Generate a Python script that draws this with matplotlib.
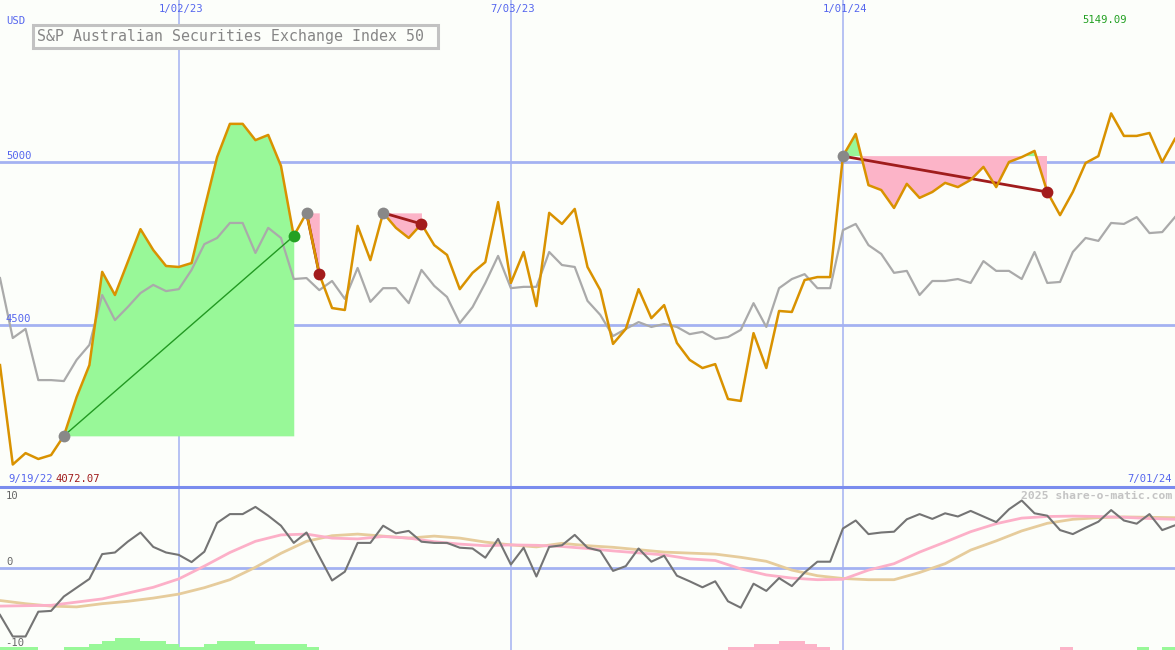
import numpy as np
import pandas as pd
import matplotlib
matplotlib.use('Agg')
import matplotlib.pyplot as plt
from matplotlib.lines import Line2D
from matplotlib.patches import Rectangle

# ---------------- data ----------------
dates = pd.date_range('2022-09-26', periods=93, freq='7D')

price = [4377, 4072.07, 4107, 4089, 4101, 4160, 4279, 4377, 4663, 4592,
         4693, 4794, 4730, 4681, 4678, 4690, 4856, 5015, 5117, 5117,
         5067, 5083, 4988, 4773, 4844, 4656, 4552, 4546, 4804, 4699,
         4844, 4798, 4767, 4810, 4745, 4715, 4610, 4660, 4693, 4877,
         4629, 4724, 4558, 4844, 4810, 4856, 4678, 4607, 4442, 4488,
         4610, 4521, 4561, 4445, 4393, 4368, 4380, 4273, 4267, 4475,
         4368, 4543, 4540, 4638, 4647, 4647, 5018, 5086, 4929, 4914,
         4859, 4933, 4890, 4908, 4936, 4923, 4945, 4985, 4923, 5000,
         5015, 5034, 4908, 4837, 4908, 4997, 5018, 5149.09, 5080, 5080,
         5089, 5000, 5071]

relative = [4644, 4460, 4488, 4331, 4331, 4328, 4393, 4439, 4592, 4515,
            4555, 4598, 4623, 4604, 4610, 4669, 4748, 4767, 4813, 4813,
            4721, 4798, 4767, 4641, 4644, 4607, 4635, 4580, 4675, 4571,
            4613, 4613, 4567, 4669, 4620, 4586, 4506, 4555, 4629, 4712,
            4613, 4617, 4617, 4724, 4684, 4678, 4574, 4531, 4466, 4488,
            4509, 4494, 4503, 4494, 4472, 4479, 4457, 4463, 4485, 4567,
            4494, 4613, 4641, 4656, 4613, 4613, 4791, 4810, 4745, 4718,
            4660, 4666, 4592, 4635, 4635, 4641, 4629, 4696, 4666, 4666,
            4641, 4724, 4629, 4632, 4724, 4767, 4758, 4813, 4810, 4831,
            4782, 4785, 4831]

momentum = [-5.9, -8.6, -8.6, -5.5, -5.4, -3.6, -2.5, -1.4, 1.7, 1.9,
            3.25, 4.4, 2.6, 1.9, 1.6, 0.7, 2.0, 5.6, 6.7, 6.7,
            7.6, 6.5, 5.25, 3.1, 4.4, 1.4, -1.6, -0.5, 3.1, 3.1,
            5.25, 4.3, 4.6, 3.25, 3.1, 3.1, 2.5, 2.4, 1.25, 3.6,
            0.4, 2.5, -1.1, 2.6, 2.8, 4.1, 2.5, 2.1, -0.4, 0.2,
            2.4, 0.75, 1.5, -1.0, -1.7, -2.45, -1.7, -4.2, -5.0, -2.0,
            -2.9, -1.3, -2.3, -0.6, 0.75, 0.75, 4.9, 5.9, 4.2, 4.4,
            4.5, 6.05, 6.7, 6.1, 6.8, 6.4, 7.1, 6.4, 5.7, 7.3,
            8.4, 6.8, 6.5, 4.7, 4.2, 5.0, 5.75, 7.2, 5.9, 5.5,
            6.7, 4.7, 5.3]

fast_idx = [0, 4, 8, 12, 14, 16, 18, 20, 22, 24, 26, 28, 30, 32, 34, 36, 38,
            40, 42, 44, 46, 48, 52, 54, 56, 58, 60, 62, 64, 66, 68, 70, 72,
            74, 76, 78, 80, 82, 84, 86, 88, 90, 92]
fast_avg = [-4.8, -4.7, -3.9, -2.45, -1.4, 0.2, 1.9, 3.3, 4.1, 4.2, 3.7, 3.6,
            3.9, 3.7, 3.25, 2.95, 2.75, 2.85, 2.8, 2.65, 2.4, 2.1, 1.6, 1.1,
            0.9, -0.15, -0.9, -1.3, -1.5, -1.45, -0.3, 0.5, 1.95, 3.2, 4.5,
            5.5, 6.2, 6.4, 6.45, 6.4, 6.3, 6.15, 6.05]

slow_idx = [0, 2, 4, 6, 8, 10, 12, 14, 16, 18, 20, 22, 24, 26, 28, 30, 32,
            34, 36, 38, 40, 42, 44, 46, 48, 52, 56, 58, 60, 62, 64, 66, 68,
            70, 72, 74, 76, 78, 80, 82, 84, 86, 88, 90, 92]
slow_avg = [-4.1, -4.5, -4.8, -4.9, -4.5, -4.2, -3.8, -3.3, -2.5, -1.5, 0.05,
            1.8, 3.3, 4.0, 4.2, 3.95, 3.7, 3.95, 3.7, 3.2, 2.85, 2.6, 3.05,
            2.75, 2.55, 1.95, 1.7, 1.3, 0.8, -0.3, -1.0, -1.35, -1.5, -1.5,
            -0.6, 0.5, 2.2, 3.35, 4.6, 5.55, 6.05, 6.25, 6.35, 6.3, 6.25]

signal_bars = [1, 1, 1, 0, 0, 1, 1, 2, 3, 4,
               4, 3, 3, 2, 1, 1, 2, 3, 3, 3,
               2, 2, 2, 2, 1, 0, 0, 0, 0, 0,
               0, 0, 0, 0, 0, 0, 0, 0, 0, 0,
               0, 0, 0, 0, 0, 0, 0, 0, 0, 0,
               0, 0, 0, 0, 0, 0, 0, -1, -1, -2,
               -2, -3, -3, -2, -1, 0, 0, 0, 0, 0,
               0, 0, 0, 0, 0, 0, 0, 0, 0, 0,
               0, 0, 0, -1, 0, 0, 0, 0, 0, 1,
               0, 1, 1]

trades = [(5, 23), (24, 25), (30, 33), (66, 82)]

grid_dates = ['2023-01-02', '2023-07-03', '2024-01-01']
grid_labels = ['1/02/23', '7/03/23', '1/01/24']
price_levels = [4500, 5000]
osc_levels = [10, 0, -10]
title = 'S&P Australian Securities Exchange Index 50'
currency = 'USD'
start_label = '9/19/22'
end_label = '7/01/24'
credit = '2025 share-o-matic.com'

# ---------------- style ----------------
W, H = 1175, 650
SPLIT = 487
BG = '#fcfefa'
GRID = '#a4b2f2'
SEP = '#7a8cee'
BLUE_TXT = '#5566ee'
ORANGE = '#d99200'
GREY = '#aaaaaa'
GREEN_FILL = '#98f898'
PINK_FILL = '#fcb4c8'
MONO = 'DejaVu Sans Mono'

x = np.arange(len(price))
price_a = np.array(price, dtype=float)
grid_pos = [int(np.where(dates == pd.Timestamp(d))[0][0]) for d in grid_dates]

fig = plt.figure(figsize=(W / 100, H / 100), dpi=100, facecolor=BG)
ax = fig.add_axes([0, (H - SPLIT) / H, 1, SPLIT / H])
ax2 = fig.add_axes([0, 0, 1, (H - SPLIT) / H])
for a in (ax, ax2):
    a.set_facecolor(BG)
    for s in a.spines.values():
        s.set_visible(False)
    a.set_xticks([])
    a.set_yticks([])
    a.set_xlim(0, len(price) - 1)

# main panel scale: 5000 at y=162 px, 4500 at y=325 px
ppu = (325 - 162) / 500.0
ax.set_ylim(5000 - (SPLIT - 162) / ppu, 5000 + 162 / ppu)

for gp in grid_pos:
    ax.axvline(gp, color=GRID, lw=1.1, zorder=1)
    ax2.axvline(gp, color=GRID, lw=1.1, zorder=1)
for lv in price_levels:
    ax.axhline(lv, color=GRID, lw=2, zorder=1)

# trades
for a_i, b_i in trades:
    xs = x[a_i:b_i + 1]
    ys = price_a[a_i:b_i + 1]
    e = price_a[a_i]
    ax.fill_between(xs, e, ys, where=ys >= e, interpolate=True,
                    color=GREEN_FILL, lw=0, zorder=2)
    ax.fill_between(xs, e, ys, where=ys <= e, interpolate=True,
                    color=PINK_FILL, lw=0, zorder=2)

ax.plot(x, relative, color=GREY, lw=1.6, zorder=3)

for a_i, b_i in trades:
    win = price_a[b_i] > price_a[a_i]
    lc = '#229922' if win else '#a01c1c'
    ax.plot([a_i, b_i], [price_a[a_i], price_a[b_i]], color=lc,
            lw=1.0 if win else 2.0, zorder=4)

ax.plot(x, price, color=ORANGE, lw=1.8, zorder=5)

for a_i, b_i in trades:
    win = price_a[b_i] > price_a[a_i]
    ax.plot(a_i, price_a[a_i], 'o', ms=8.5, color='#888888', mew=0, zorder=6)
    ax.plot(b_i, price_a[b_i], 'o', ms=8.5,
            color='#22a022' if win else '#a31c1c', mew=0, zorder=6)

# lower panel: 0 at y=567.7 px, 8 px per unit
zero_px = 567.7
opu = 8.0
lo = (zero_px - H) / opu
hi = (zero_px - SPLIT) / opu
ax2.set_ylim(lo, hi)
ax2.axhline(0, color=GRID, lw=2, zorder=1)

bar_unit = 0.39
sb = np.array(signal_bars)
for i, v in enumerate(sb):
    if v == 0:
        continue
    ax2.bar(i, abs(v) * bar_unit, bottom=lo, width=1.0, align='edge',
            color=GREEN_FILL if v > 0 else PINK_FILL, lw=0, zorder=2)

ax2.plot(slow_idx, slow_avg, color='#e6cc9c', lw=2, zorder=3)
ax2.plot(fast_idx, fast_avg, color='#fcb0c8', lw=2, zorder=3)
ax2.plot(x, momentum, color='#747474', lw=1.5, zorder=4)

# separator
fig.add_artist(Line2D([0, 1], [1 - SPLIT / H] * 2, transform=fig.transFigure,
                      color=SEP, lw=2.2, zorder=10))


def ftext(px, py, s, **kw):
    kw.setdefault('family', MONO)
    kw.setdefault('zorder', 12)
    return fig.text(px / W, 1 - py / H, s, **kw)


# title box (opaque, hides the grid line behind it)
fig.add_artist(Rectangle((33 / W, 1 - 47.5 / H), 405 / W, 23 / H,
                         transform=fig.transFigure, fill=True, fc=BG,
                         ec='#c2c2c2', lw=2.2, zorder=10))
ftext(37, 36.5, title, fontsize=10.7, color='#868686', va='center', ha='left')

ftext(6, 21, currency, fontsize=7.6, color=BLUE_TXT, va='center')
for gp, lab in zip(grid_pos, grid_labels):
    ftext(gp * W / (len(price) - 1) + 2, 9, lab, fontsize=7.6,
          color=BLUE_TXT, va='center', ha='center')
for lv in price_levels:
    py = 162 + (5000 - lv) * ppu
    ftext(6, py - 6, str(lv), fontsize=7.6, color=BLUE_TXT, va='center')

ftext(1082, 20, f'{max(price):.2f}', fontsize=7.6, color='#22a022', va='center')
ftext(8, 479, start_label, fontsize=7.6, color=BLUE_TXT, va='center')
ftext(55, 479, f'{min(price):.2f}', fontsize=7.6, color='#a01c1c', va='center')
ftext(1172, 479, end_label, fontsize=7.6, color=BLUE_TXT, va='center', ha='right')
ftext(1172, 496, credit, fontsize=8.2, color='#c4c4c4', va='center', ha='right',
      fontweight='bold')

for lv, py in zip(osc_levels, [496, 562, 643]):
    ftext(5 if lv < 0 else 6, py, str(lv), fontsize=7.6, color='#666666',
          va='center')

fig.savefig('out.png', dpi=100, facecolor=BG)
